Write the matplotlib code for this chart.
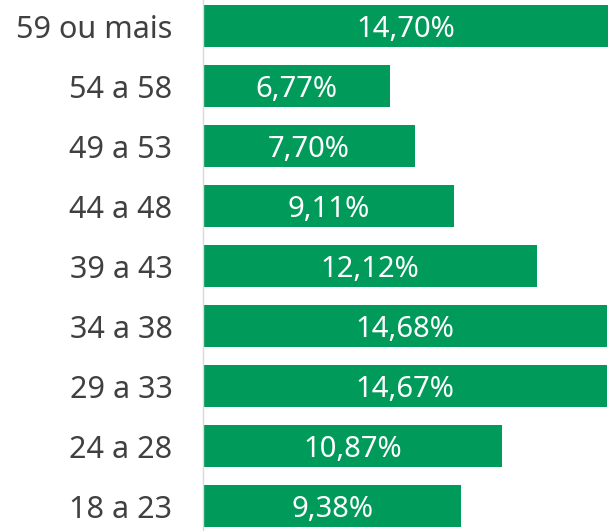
import matplotlib.pyplot as plt

plt.rcParams['font.family'] = ['Noto Sans', 'DejaVu Sans']

# Faixas etárias (de baixo para cima) e percentuais
categories = ['18 a 23', '24 a 28', '29 a 33', '34 a 38', '39 a 43',
              '44 a 48', '49 a 53', '54 a 58', '59 ou mais']
values = [9.38, 10.87, 14.67, 14.68, 12.12, 9.11, 7.70, 6.77, 14.70]
labels = ['9,38%', '10,87%', '14,67%', '14,68%', '12,12%',
          '9,11%', '7,70%', '6,77%', '14,70%']

fig = plt.figure(figsize=(6.13, 5.31), dpi=100)
ax = fig.add_axes([203 / 613, 0, 405 / 613, 1])

y = range(len(categories))
ax.barh(y, values, height=0.7, color='#009A5A', clip_on=False)

for i, (v, lab) in enumerate(zip(values, labels)):
    ax.text(v / 2, i, lab, ha='center', va='center_baseline',
            color='white', fontsize=21)

ax.set_xlim(0, 14.70)
ax.set_ylim(-25 / 60, 8 + 26 / 60)
ax.set_yticks(list(y))
ax.set_yticklabels(categories, fontsize=22, color='#404040',
                   va='center_baseline')
ax.tick_params(axis='y', length=0, pad=22)
ax.set_xticks([])

for s in ['top', 'right', 'bottom']:
    ax.spines[s].set_visible(False)
ax.spines['left'].set_color('#D9D9D9')
ax.spines['left'].set_linewidth(1)

fig.savefig('out.png', dpi=100)
